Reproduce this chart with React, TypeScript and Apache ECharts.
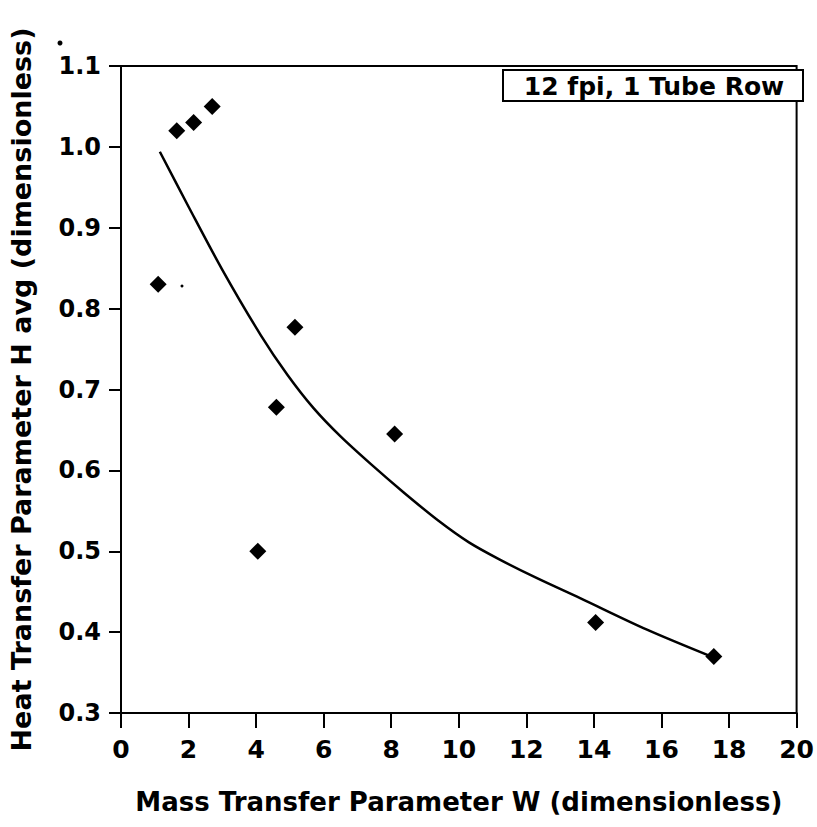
import React, { useEffect, useRef } from "react";
import * as echarts from "echarts";

// Measured data points (W, H avg)
const pointW = [1.1, 1.65, 2.15, 2.7, 4.05, 4.6, 5.15, 8.1, 14.05, 17.55];
const pointH = [0.83, 1.02, 1.03, 1.05, 0.5, 0.678, 0.777, 0.645, 0.412, 0.37];

// Fitted curve samples
const curveW = [1.15, 2.0, 3.0, 4.14, 4.93, 5.7, 6.5, 7.39, 8.36, 9.39, 10.3, 11.2, 12.3, 13.59, 15.57, 17.52];
const curveH = [0.994, 0.926, 0.848, 0.767, 0.718, 0.677, 0.642, 0.608, 0.573, 0.538, 0.511, 0.49, 0.467, 0.442, 0.403, 0.369];

const xTicks = [0, 2, 4, 6, 8, 10, 12, 14, 16, 18, 20];
const yTickLabels = ["0.3", "0.4", "0.5", "0.6", "0.7", "0.8", "0.9", "1.0", "1.1"];

const legendText = "12 fpi, 1 Tube Row";
const xTitle = "Mass Transfer Parameter W (dimensionless)";
const yTitle = "Heat Transfer Parameter H avg (dimensionless)";

const FONT = "DejaVu Sans";

export default function App() {
  const ref = useRef<HTMLDivElement>(null);
  useEffect(() => {
    if (!ref.current) return;
    const chart = echarts.init(ref.current, null, { renderer: "svg" });
    const scatter = pointW.map((w, i) => [w, pointH[i]]);
    const curve = curveW.map((w, i) => [w, curveH[i]]);
    chart.setOption({
      animation: false,
      backgroundColor: "#ffffff",
      grid: {
        left: 120,
        right: 20,
        top: 66,
        bottom: 114,
        show: true,
        borderColor: "#000",
        borderWidth: 2,
        backgroundColor: "transparent",
      },
      xAxis: {
        type: "value",
        min: 0,
        max: 20,
        interval: 2,
        name: xTitle,
        nameLocation: "middle",
        nameGap: 76,
        nameTextStyle: { fontFamily: FONT, fontWeight: "bold", fontSize: 26, color: "#000" },
        axisLine: { show: true, lineStyle: { color: "#000", width: 2 } },
        axisTick: { show: true, length: 15, inside: false, lineStyle: { color: "#000", width: 2 } },
        axisLabel: {
          margin: 24,
          fontFamily: FONT,
          fontWeight: "bold",
          fontSize: 25,
          color: "#000",
          formatter: (v: number) => (xTicks.includes(v) ? String(v) : ""),
        },
        splitLine: { show: false },
      },
      yAxis: {
        type: "value",
        min: 0.3,
        max: 1.1,
        interval: 0.1,
        name: yTitle,
        nameLocation: "middle",
        nameGap: 86,
        nameTextStyle: { fontFamily: FONT, fontWeight: "bold", fontSize: 27, color: "#000" },
        axisLine: { show: true, lineStyle: { color: "#000", width: 2 } },
        axisTick: { show: true, length: 12, inside: false, lineStyle: { color: "#000", width: 2 } },
        axisLabel: {
          margin: 20,
          fontFamily: FONT,
          fontWeight: "bold",
          fontSize: 24,
          color: "#000",
          formatter: (v: number) => {
            const i = Math.round((v - 0.3) * 10);
            return yTickLabels[i] ?? "";
          },
        },
        splitLine: { show: false },
      },
      series: [
        {
          type: "line",
          data: curve,
          smooth: 0.3,
          showSymbol: false,
          symbol: "none",
          lineStyle: { color: "#000", width: 2.5 },
          z: 2,
        },
        {
          type: "scatter",
          data: scatter,
          symbol: "diamond",
          symbolSize: 17,
          itemStyle: { color: "#000", opacity: 1 },
          z: 3,
        },
      ],
      graphic: [
        {
          type: "rect",
          shape: { x: 503, y: 70, width: 300, height: 31 },
          style: { fill: "#fff", stroke: "#000", lineWidth: 2 },
          z: 10,
        },
        {
          type: "text",
          x: 654,
          y: 86,
          style: {
            text: legendText,
            fontFamily: FONT,
            fontWeight: "bold",
            fontSize: 25,
            fill: "#000",
            align: "center",
            verticalAlign: "middle",
          },
          z: 11,
        },
        { type: "circle", shape: { cx: 60, cy: 43, r: 2.5 }, style: { fill: "#000" } },
        { type: "circle", shape: { cx: 182, cy: 286, r: 1.5 }, style: { fill: "#000" } },
      ],
    });
    return () => chart.dispose();
  }, []);
  return (
    <div
      ref={ref}
      style={{ position: "absolute", left: 0, top: 0, width: 817, height: 827 }}
    />
  );
}
